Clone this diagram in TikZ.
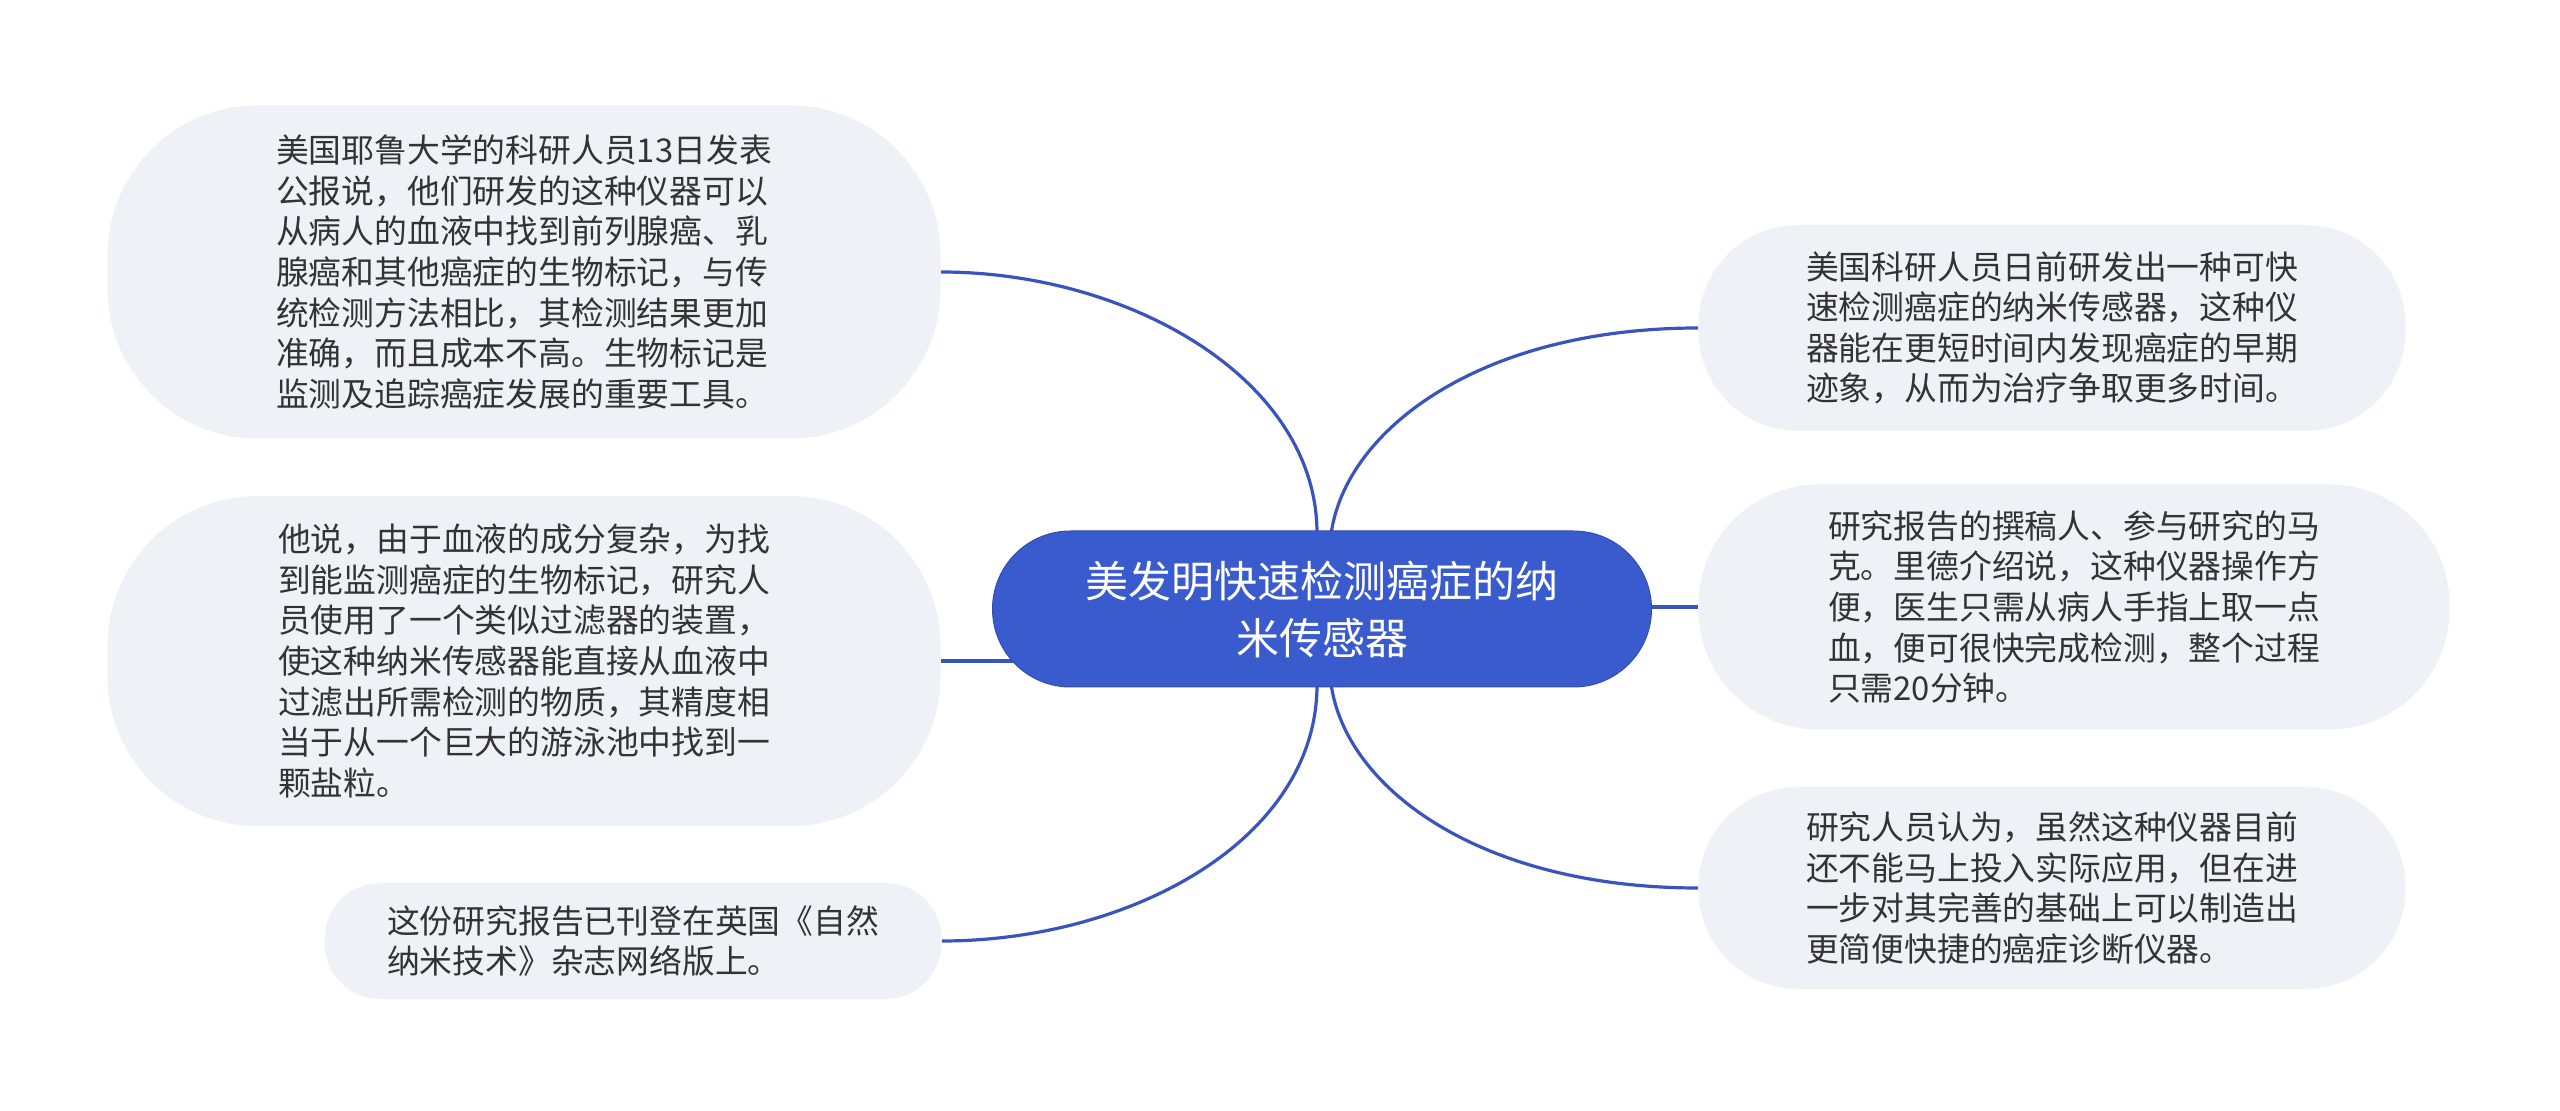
\documentclass[tikz,border=0pt]{standalone}
\usepackage{fontspec}
\setmainfont{Noto Sans CJK SC}
\usetikzlibrary{backgrounds}
\definecolor{rootblue}{HTML}{3A5BCD}
\definecolor{linkblue}{HTML}{3A54BE}
\definecolor{leafgray}{HTML}{EEF1F5}
\definecolor{txt}{HTML}{333333}
\begin{document}
\begin{tikzpicture}[x=0.5pt,y=-0.5pt,
  leaf/.style={fill=leafgray, draw=none, text=txt, align=left, inner sep=0pt,
    font=\fontsize{16.4pt}{20.3pt}\selectfont},
  rootnode/.style={fill=rootblue, draw=rootblue!85!black, line width=0.5pt, text=white, align=center,
    rounded corners=39pt, minimum width=329.5pt, minimum height=78pt, inner sep=0pt,
    font=\fontsize{21.5pt}{28.5pt}\selectfont},
  link/.style={draw=linkblue, line width=1.6pt}]
\useasboundingbox (0,0) rectangle (2560,1111);

\node[rootnode] (root) at (1322,609) {美发明快速检测癌症的纳\\米传感器};

\node[leaf, minimum width=416.5pt, minimum height=166.5pt, rounded corners=75pt] (l1) at (524,272)
{美国耶鲁大学的科研人员13日发表\\公报说，他们研发的这种仪器可以\\从病人的血液中找到前列腺癌、乳\\腺癌和其他癌症的生物标记，与传\\统检测方法相比，其检测结果更加\\准确，而且成本不高。生物标记是\\监测及追踪癌症发展的重要工具。};

\node[leaf, minimum width=416.5pt, minimum height=165pt, rounded corners=75pt] (l2) at (524,661)
{他说，由于血液的成分复杂，为找\\到能监测癌症的生物标记，研究人\\员使用了一个类似过滤器的装置，\\使这种纳米传感器能直接从血液中\\过滤出所需检测的物质，其精度相\\当于从一个巨大的游泳池中找到一\\颗盐粒。};

\node[leaf, minimum width=308.5pt, minimum height=58pt, rounded corners=28pt] (l3) at (633,941)
{这份研究报告已刊登在英国《自然\\纳米技术》杂志网络版上。};

\node[leaf, minimum width=353.5pt, minimum height=103pt, rounded corners=50pt] (r1) at (2052,328)
{美国科研人员日前研发出一种可快\\速检测癌症的纳米传感器，这种仪\\器能在更短时间内发现癌症的早期\\迹象，从而为治疗争取更多时间。};

\node[leaf, minimum width=375.5pt, minimum height=122.5pt, rounded corners=60pt] (r2) at (2074,607)
{研究报告的撰稿人、参与研究的马\\克。里德介绍说，这种仪器操作方\\便，医生只需从病人手指上取一点\\血，便可很快完成检测，整个过程\\只需20分钟。};

\node[leaf, minimum width=353.5pt, minimum height=101pt, rounded corners=50pt] (r3) at (2052,888)
{研究人员认为，虽然这种仪器目前\\还不能马上投入实际应用，但在进\\一步对其完善的基础上可以制造出\\更简便快捷的癌症诊断仪器。};

\begin{scope}[on background layer]
\fill[white] (0,0) rectangle (2560,1111);
\draw[link] ([xshift=-2.5pt,yshift=-2pt]root.north) .. controls (1318,380) and (1130,272) .. (l1.east);
\draw[link] (l2.east) -- (l2.east -| root.center);
\draw[link] ([xshift=-2.5pt,yshift=2pt]root.south) .. controls (1318,840) and (1130,941) .. (l3.east);
\draw[link] ([xshift=4.5pt,yshift=-2pt]root.north) .. controls (1345,430) and (1480,328) .. (r1.west);
\draw[link] (r2.west -| root.center) -- (r2.west);
\draw[link] ([xshift=4.5pt,yshift=2pt]root.south) .. controls (1345,788) and (1480,888) .. (r3.west);
\end{scope}
\end{tikzpicture}
\end{document}
